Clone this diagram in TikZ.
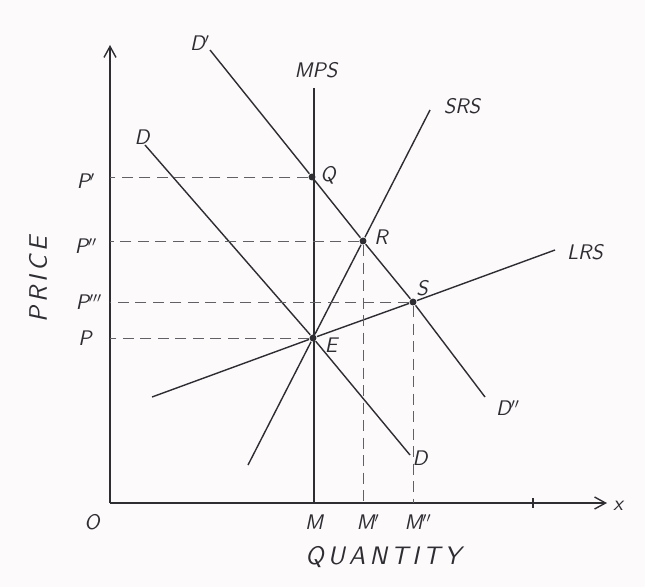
\documentclass[tikz,border=0pt]{standalone}
\usetikzlibrary{arrows.meta}
\definecolor{paper}{RGB}{253,250,252}
\definecolor{pencil}{RGB}{45,45,50}
\begin{document}
\begin{tikzpicture}[x=0.2mm, y=-0.2mm, thick, draw=pencil, text=pencil, font=\sffamily\slshape\large,
    >={Straight Barb[length=2.2mm, width=2.4mm]}]
  \useasboundingbox[fill=paper] (0,0) rectangle (645,587);
  \tikzset{
    pt/.style={circle, fill=pencil, inner sep=1.4pt},
    guide/.style={thin, draw=pencil!75, dash pattern=on 2.2mm off 1.3mm},
    axislabel/.style={font=\sffamily\slshape\Large}
  }
  % Nodes
  \coordinate (O) at (110,503);
  \coordinate (ytop) at (110,45);
  \coordinate (xend) at (607,503);
  \node[pt] (Q) at (312,177) {};
  \node[pt] (R) at (363,241) {};
  \node[pt] (S) at (413,302) {};
  \node[pt] (E) at (313,338) {};
  \coordinate (mpstop) at (314,88);
  \coordinate (M) at (314,503);
  \coordinate (dtop) at (145,145);
  \coordinate (dbot) at (410,455);
  \coordinate (d1top) at (210,50);
  \coordinate (d1bot) at (485,397);
  \coordinate (srsbot) at (248,465);
  \coordinate (srstop) at (430,110);
  \coordinate (lrsbot) at (152,397);
  \coordinate (lrstop) at (555,250);

  \node (lO) at (92,522) {O};
  \node[axislabel, rotate=90] (lprice) at (38,280) {P\,R\,I\,C\,E};
  \node[axislabel] (lqty) at (383,557) {Q\,U\,A\,N\,T\,I\,T\,Y};
  \node (lx) at (618,506) {x};
  \node (lmps) at (316,70) {MPS};
  \node (lsrs) at (462,106) {SRS};
  \node (llrs) at (585,252) {LRS};
  \node (ld) at (142,137) {D};
  \node (ld2) at (420,458) {D};
  \node (ld1) at (200,43) {D$'$};
  \node (ld1b) at (508,408) {D$''$};
  \node (lQ) at (328,175) {Q};
  \node (lR) at (381,237) {R};
  \node (lS) at (422,288) {S};
  \node (lE) at (331,345) {E};
  \node (lp1) at (86,181) {P$'$};
  \node (lp2) at (86,246) {P$''$};
  \node (lp3) at (89,302) {P$'''$};
  \node (lp) at (85,338) {P};
  \node (lm) at (314,522) {M};
  \node (lm1) at (368,522) {M$'$};
  \node (lm2) at (418,522) {M$''$};

  % Edges
  \draw[->] (O) -- (ytop);
  \draw[->] (O) -- (xend);
  \draw (533,498) -- (533,508);
  \draw (mpstop) -- (M);
  \draw (dtop) -- (E) -- (dbot);
  \draw (d1top) -- (Q) -- (R) -- (S) -- (d1bot);
  \draw (srsbot) -- (E) -- (R) -- (srstop);
  \draw (lrsbot) -- (E) -- (S) -- (lrstop);
  \draw[guide] (Q) -- (Q -| O);
  \draw[guide] (R) -- (R -| O);
  \draw[guide] (S) -- (S -| O);
  \draw[guide] (E) -- (E -| O);
  \draw[guide] (R) -- (R |- O);
  \draw[guide] (S) -- (S |- O);
\end{tikzpicture}
\end{document}
